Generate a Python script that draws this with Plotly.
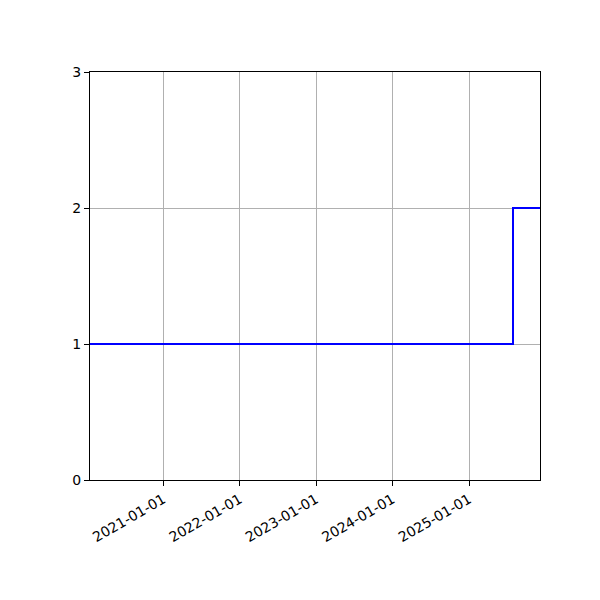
import plotly.graph_objects as go

dates = ["2020-01-17", "2025-07-30", "2025-12-06"]
values = [1, 2, 2]

tick_vals = ["2021-01-01", "2022-01-01", "2023-01-01", "2024-01-01", "2025-01-01"]
y_ticks = [0, 1, 2, 3]

fig = go.Figure()
fig.add_trace(go.Scatter(
    x=dates,
    y=values,
    mode="lines",
    line=dict(color="blue", width=2, shape="hv"),
    hoverinfo="none"
))

# the page has an 8px body margin, so the margins are shifted by that
fig.update_layout(
    width=600,
    height=600,
    showlegend=False,
    plot_bgcolor="white",
    paper_bgcolor="white",
    margin=dict(l=82, r=68, t=64, b=128),
    font=dict(family="DejaVu Sans", size=14, color="black")
)

fig.update_xaxes(
    type="date",
    range=[dates[0], dates[-1]],
    tickvals=tick_vals,
    ticktext=tick_vals,
    tickangle=-30,
    ticks="outside",
    ticklen=5,
    tickcolor="black",
    showgrid=True,
    gridcolor="#b0b0b0",
    gridwidth=1,
    showline=True,
    linecolor="black",
    linewidth=1,
    mirror=True,
    zeroline=False
)

fig.update_yaxes(
    range=[0, 3],
    tickvals=y_ticks,
    ticks="outside",
    ticklen=5,
    tickcolor="black",
    showgrid=True,
    gridcolor="#b0b0b0",
    gridwidth=1,
    showline=True,
    linecolor="black",
    linewidth=1,
    mirror=True,
    zeroline=False
)

fig.write_html("out.html")
